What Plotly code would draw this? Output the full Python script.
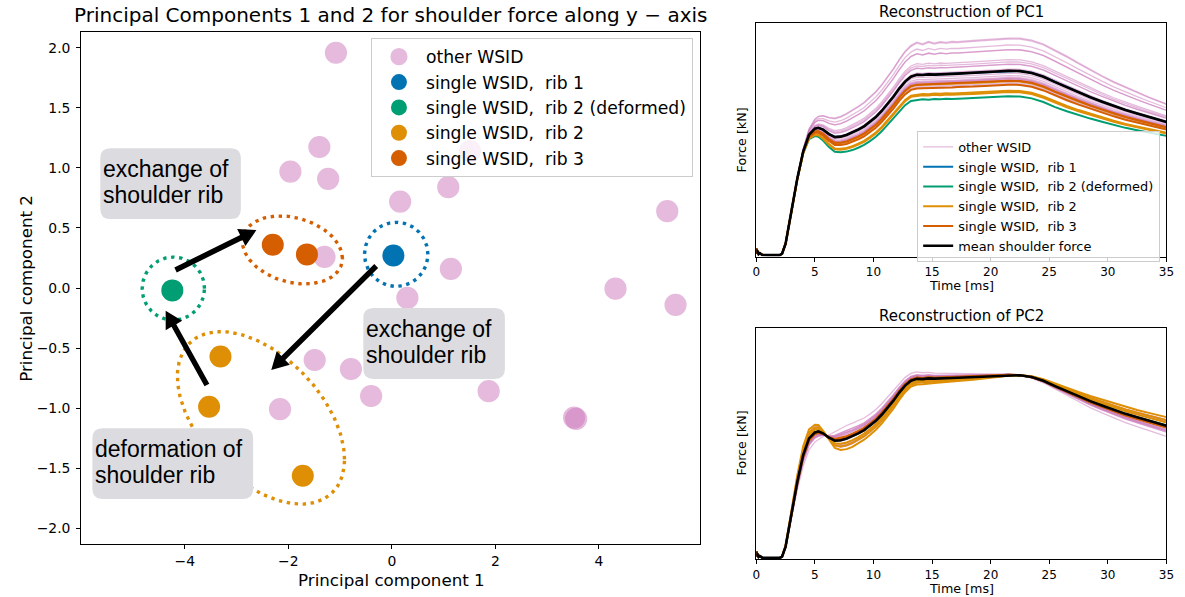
import numpy as np
import plotly.graph_objects as go

W, H = 1185, 597

# ---------------- data ----------------
# PCA scores (PC1, PC2) of each WSID
OTHER_PC1 = [-1.08, -1.40, -1.96, -1.23, 1.09, 0.16, 5.32, -1.30, 1.14, 1.51,
             4.32, 0.30, 5.48, -1.49, -0.79, -0.40, -2.16, 1.87, 3.52, 3.56]
OTHER_PC2 = [1.96, 1.175, 0.97, 0.91, 0.84, 0.72, 0.64, 0.26, 0.16, 1.14,
             -0.006, -0.083, -0.14, -0.60, -0.675, -0.90, -1.01, -0.86, -1.08, -1.09]
RIB1_PC1 = [0.03]
RIB1_PC2 = [0.27]
RIB2D_PC1 = [-4.24]
RIB2D_PC2 = [-0.02]
RIB2_PC1 = [-3.31, -3.53, -1.72]
RIB2_PC2 = [-0.57, -0.99, -1.565]
RIB3_PC1 = [-2.30, -1.64]
RIB3_PC2 = [0.36, 0.28]

# time axis [ms], mean shoulder force and PC loadings (normalised force units)
TIME_MS = [0.0, 0.05, 0.1, 0.2, 0.3, 0.5, 1.0, 1.5, 2.0, 2.2, 2.5, 3.0, 3.5, 4.0, 4.5,
           5.0, 5.3, 5.7, 6.2, 6.7, 7.2, 7.7, 8.2, 8.7, 9.2, 9.7, 10.2, 10.7, 11.2, 11.7,
           12.2, 12.7, 13.2, 13.7, 14.2, 14.7, 15.2, 15.7, 16.2, 16.7, 17.2, 17.7, 18.5,
           19.5, 20.5, 21.5, 22.5, 23.5, 24.5, 25.5, 26.5, 27.5, 28.5, 29.5, 30.5, 31.5,
           32.5, 33.5, 34.5, 35.0]
MEAN_FORCE = [0.034, 0.012, 0.024, 0.010, 0.014, 0.007, 0.006, 0.006, 0.006, 0.012,
              0.055, 0.195, 0.335, 0.450, 0.522, 0.548, 0.552, 0.544, 0.525, 0.512,
              0.514, 0.521, 0.531, 0.544, 0.558, 0.577, 0.598, 0.624, 0.654, 0.685,
              0.720, 0.750, 0.771, 0.779, 0.778, 0.781, 0.780, 0.782, 0.782, 0.783,
              0.784, 0.785, 0.787, 0.790, 0.793, 0.796, 0.795, 0.787, 0.771, 0.748,
              0.726, 0.704, 0.683, 0.664, 0.645, 0.628, 0.613, 0.598, 0.584, 0.577]
PC1_LOADING = [0, 0, 0, 0, 0, 0, 0, 0, 0, 0,
               0.0, 0.0005, 0.001, 0.002, 0.0045, 0.0075, 0.009, 0.011, 0.013, 0.0148,
               0.0158, 0.0168, 0.0176, 0.0183, 0.0188, 0.0194, 0.0200, 0.0206, 0.0212, 0.0220,
               0.0229, 0.0238, 0.0245, 0.0256, 0.0244, 0.0257, 0.0246, 0.0255, 0.0248, 0.0254,
               0.0250, 0.0253, 0.0254, 0.0255, 0.0256, 0.0257, 0.0257, 0.0257, 0.0256, 0.0253,
               0.0243, 0.0230, 0.0216, 0.0203, 0.0191, 0.0180, 0.0168, 0.0157, 0.0146, 0.0141]
PC2_LOADING = [0, 0, 0, 0, 0, 0, 0, 0, 0, 0,
               -0.003, -0.010, -0.018, -0.024, -0.025, -0.021, -0.018, -0.007, 0.006, 0.020,
               0.027, 0.029, 0.029, 0.028, 0.0265, 0.0255, 0.0248, 0.0242, 0.0232, 0.0220,
               0.0202, 0.0182, 0.0162, 0.0155, 0.0140, 0.0135, 0.0122, 0.0118, 0.0108, 0.0102,
               0.0093, 0.0085, 0.0072, 0.0056, 0.0040, 0.0020, 0.0000, -0.0022, -0.0045, -0.0068,
               -0.0093, -0.0118, -0.0142, -0.0163, -0.0180, -0.0192, -0.0204, -0.0218, -0.0230, -0.0236]

TITLE_LEFT = "Principal Components 1 and 2 for shoulder force along y \u2212 axis"
BOX_TEXTS = [("exchange of", "shoulder rib"), ("exchange of", "shoulder rib"),
             ("deformation of", "shoulder rib")]

# ---------------- styles ----------------
PINK, BLUE, GREEN, ORANGE, VERMIL = "#CC78BC", "#0173B2", "#029E73", "#DE8F05", "#D55E00"
FONT = "DejaVu Sans"
BOXFONT = "Liberation Sans, Arial"

GROUPS = [
    ("other WSID", OTHER_PC1, OTHER_PC2, PINK),
    ("single WSID,\u00a0 rib 1", RIB1_PC1, RIB1_PC2, BLUE),
    ("single WSID,\u00a0 rib 2 (deformed)", RIB2D_PC1, RIB2D_PC2, GREEN),
    ("single WSID,\u00a0 rib 2", RIB2_PC1, RIB2_PC2, ORANGE),
    ("single WSID,\u00a0 rib 3", RIB3_PC1, RIB3_PC2, VERMIL),
]

# left axes placement (px) and ranges
LX0, LX1, LY0, LY1 = 78, 703, 32, 544
XR = [-6.0, 5.95]
YR = [-2.133, 2.133]
SX = (LX1 - LX0) / (XR[1] - XR[0])
SY = (LY1 - LY0) / (YR[1] - YR[0])


def d2p(x, y):
    return LX0 + (x - XR[0]) * SX, LY0 + (YR[1] - y) * SY


def p2d(px, py):
    return XR[0] + (px - LX0) / SX, YR[1] - (py - LY0) / SY


def dom_x(a, b):
    return [a / W, b / W]


def dom_y(top, bottom):
    return [1 - bottom / H, 1 - top / H]


fig = go.Figure()

# ---------- dotted ellipses (annotation outlines) ----------
ELLIPSES = [
    dict(cx=0.085, cy=0.28, ax=0.612, bxy=0.0, by=0.267, color=BLUE),
    dict(cx=-4.22, cy=-0.005, ax=0.602, bxy=0.0, by=0.2625, color=GREEN),
    dict(cx=-1.92, cy=0.317, ax=0.966, bxy=-0.069, by=0.275, color=VERMIL),
    dict(cx=-2.528, cy=-1.082, ax=1.614, bxy=-0.3456, by=0.630, color=ORANGE),
]
th = np.linspace(0, 2 * np.pi, 240)
for e in ELLIPSES:
    fig.add_trace(go.Scatter(
        x=e["cx"] + e["ax"] * np.cos(th),
        y=e["cy"] + e["bxy"] * np.cos(th) + e["by"] * np.sin(th),
        mode="lines", line=dict(color=e["color"], width=3.4, dash="3.4px,4.6px"),
        showlegend=False, hoverinfo="skip", xaxis="x", yaxis="y"))

# ---------- scatter ----------
for i, (name, px1, px2, col) in enumerate(GROUPS):
    if i == 0:
        mk = dict(size=21, color=PINK, opacity=0.5, line=dict(color=PINK, width=1.2))
    else:
        mk = dict(size=22, color=col, line=dict(width=0))
    fig.add_trace(go.Scatter(x=px1, y=px2, mode="markers", name=name, marker=mk,
                             legend="legend", xaxis="x", yaxis="y"))

# ---------- reconstructions ----------
t = np.array(TIME_MS)
mean = np.array(MEAN_FORCE)
loads = [np.array(PC1_LOADING), np.array(PC2_LOADING)]
for k, (xa, ya) in enumerate([("x2", "y2"), ("x3", "y3")]):
    L = loads[k]
    for gi, (name, p1, p2, col) in enumerate(GROUPS):
        scores = p1 if k == 0 else p2
        for j, s in enumerate(scores):
            if gi == 0:
                ln = dict(color="rgba(204,120,188,0.5)", width=1.3)
            else:
                ln = dict(color=col, width=2)
            fig.add_trace(go.Scatter(
                x=t, y=mean + s * L, mode="lines", line=ln, name=name,
                legendgroup=name, showlegend=(k == 0 and j == 0), legend="legend2",
                hoverinfo="skip", xaxis=xa, yaxis=ya))
    fig.add_trace(go.Scatter(x=t, y=mean, mode="lines", line=dict(color="black", width=2.6),
                             name="mean shoulder force", showlegend=(k == 0),
                             legend="legend2", xaxis=xa, yaxis=ya))

# ---------- shapes: text boxes and arrows ----------
shapes = []
BOXES = [(-5.631, -2.916, 0.575, 1.164), (-0.551, 2.184, -0.758, -0.167),
         (-5.784, -2.679, -1.758, -1.169)]


def rounded_path(x0, x1, y0, y1, r=10):
    a, b = d2p(x0, y1)  # top-left px
    c, d = d2p(x1, y0)  # bottom-right px
    pts = [("M", a + r, b), ("L", c - r, b), ("Q", c, b, c, b + r), ("L", c, d - r),
           ("Q", c, d, c - r, d), ("L", a + r, d), ("Q", a, d, a, d - r), ("L", a, b + r),
           ("Q", a, b, a + r, b)]
    out = []
    for p in pts:
        if p[0] == "Q":
            q1 = p2d(p[1], p[2]); q2 = p2d(p[3], p[4])
            out.append(f"Q{q1[0]:.4f},{q1[1]:.4f} {q2[0]:.4f},{q2[1]:.4f}")
        else:
            q = p2d(p[1], p[2])
            out.append(f"{p[0]}{q[0]:.4f},{q[1]:.4f}")
    return " ".join(out) + " Z"


for (x0, x1, y0, y1) in BOXES:
    shapes.append(dict(type="path", path=rounded_path(x0, x1, y0, y1), xref="x", yref="y",
                       fillcolor="#dcdce0", line=dict(width=0), layer="above"))

ARROWS = [((-4.178, 0.15), (-2.616, 0.483)),
          ((-0.302, 0.183), (-2.329, -0.683)),
          ((-3.572, -0.808), (-4.369, -0.189))]
SHAFT_W, HEAD_W, HEAD_L = 5.5, 19.0, 17.0
for (tail, tip) in ARROWS:
    p0 = np.array(d2p(*tail)); p1 = np.array(d2p(*tip))
    u = (p1 - p0) / np.linalg.norm(p1 - p0)
    n = np.array([-u[1], u[0]])
    b = p1 - u * HEAD_L
    poly = [p0 + n * SHAFT_W / 2, b + n * SHAFT_W / 2, b + n * HEAD_W / 2, p1,
            b - n * HEAD_W / 2, b - n * SHAFT_W / 2, p0 - n * SHAFT_W / 2]
    dp = [p2d(*q) for q in poly]
    path = "M" + " L".join(f"{q[0]:.4f},{q[1]:.4f}" for q in dp) + " Z"
    shapes.append(dict(type="path", path=path, xref="x", yref="y", fillcolor="black",
                       line=dict(width=0), layer="above"))

# ---------- annotations ----------
ann = []
for (x0, x1, y0, y1), lines in zip(BOXES, BOX_TEXTS):
    bx, by_top = d2p(x0, y1)
    for li, (txt, off) in enumerate(zip(lines, (20.5, 47.0))):
        xx, yy = p2d(bx + 0.5, by_top + off)
        ann.append(dict(x=xx, y=yy, xref="x", yref="y", text=txt,
                        showarrow=False, xanchor="left", yanchor="middle", align="left",
                        font=dict(family=BOXFONT, size=23, color="black")))


def label(text, px, py, size, angle=0):
    ann.append(dict(x=px / W, y=1 - py / H, xref="paper", yref="paper", text=text,
                    showarrow=False, xanchor="center", yanchor="middle", textangle=angle,
                    font=dict(family=FONT, size=size, color="black")))


label(TITLE_LEFT, 390.5, 15, 20)
label("Principal component 1", 391, 580, 16.7)
label("Principal component 2", 22, 288, 16.7, -90)
label("Reconstruction of PC1", 967, 12, 15)
label("Reconstruction of PC2", 967, 316, 15)
label("Time [ms]", 967, 285, 12.7)
label("Time [ms]", 967, 588.5, 12.7)
label("Force [kN]", 745, 140, 12.7, -90)
label("Force [kN]", 745, 443, 12.7, -90)

axis_common = dict(showline=True, linecolor="black", linewidth=1, mirror=True,
                   showgrid=False, zeroline=False, ticks="outside", tickcolor="black",
                   ticklen=4, tickwidth=1)

fig.update_layout(
    width=W, height=H, margin=dict(l=0, r=0, t=0, b=0),
    paper_bgcolor="white", plot_bgcolor="white",
    font=dict(family=FONT, color="black"),
    xaxis=dict(domain=dom_x(LX0, LX1), range=XR, tickvals=[-4, -2, 0, 2, 4],
               tickfont=dict(size=13.9), anchor="y", ticklabelstandoff=0, **axis_common),
    yaxis=dict(domain=dom_y(LY0, LY1), range=YR, dtick=0.5, tick0=0, tickformat=".1f",
               tickfont=dict(size=13.9), anchor="x", ticklabelstandoff=3, **axis_common),
    xaxis2=dict(domain=dom_x(760, 1174.3), range=[0, 35], dtick=5, tick0=0,
                tickfont=dict(size=12), anchor="y2", ticklabelstandoff=0, **axis_common),
    yaxis2=dict(domain=dom_y(23.3, 256.5), range=[0, 1], showticklabels=False,
                anchor="x2", **{**axis_common, "ticks": ""}),
    xaxis3=dict(domain=dom_x(760, 1174.3), range=[0, 35], dtick=5, tick0=0,
                tickfont=dict(size=12), anchor="y3", ticklabelstandoff=0, **axis_common),
    yaxis3=dict(domain=dom_y(327.7, 559.3), range=[0, 1], showticklabels=False,
                anchor="x3", **{**axis_common, "ticks": ""}),
    legend=dict(x=696 / W, y=1 - 38 / H, xanchor="right", yanchor="top",
                font=dict(size=17.2, family=FONT, color="black"),
                bgcolor="rgba(255,255,255,0.8)", bordercolor="#cccccc", borderwidth=1,
                itemwidth=44, tracegroupgap=0),
    legend2=dict(x=1168 / W, y=1 - 131 / H, xanchor="right", yanchor="top",
                 font=dict(size=12.9, family=FONT, color="black"),
                 bgcolor="rgba(255,255,255,0.8)", bordercolor="#cccccc", borderwidth=1,
                 tracegroupgap=0),
    shapes=shapes, annotations=ann, hovermode=False,
)

fig.write_html("out.html")
